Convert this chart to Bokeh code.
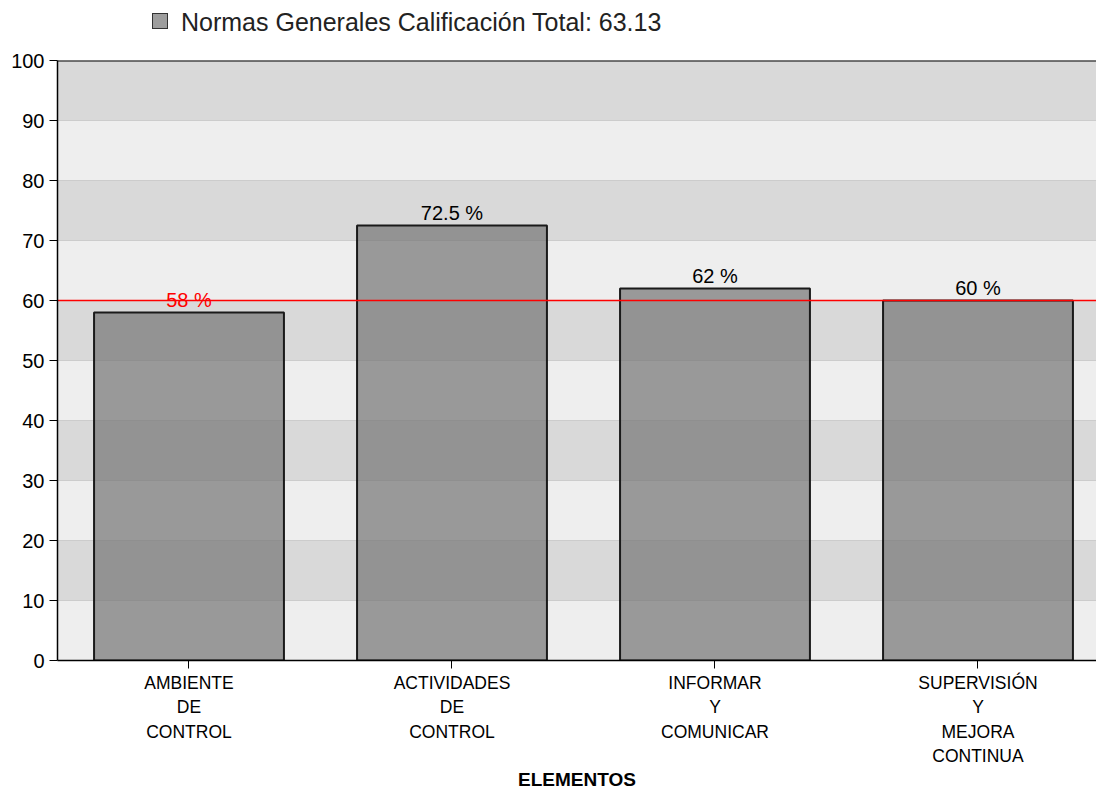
from bokeh.plotting import figure
from bokeh.models import Range1d, FixedTicker, Span, ColumnDataSource, Div
from bokeh.layouts import column
from bokeh.core.properties import value
from bokeh.embed import file_html
from bokeh.resources import INLINE

categories = ["AMBIENTE\nDE\nCONTROL", "ACTIVIDADES\nDE\nCONTROL", "INFORMAR\nY\nCOMUNICAR", "SUPERVISIÓN\nY\nMEJORA\nCONTINUA"]
scores = [58, 72.5, 62, 60]
threshold = 60
legend_text = "Normas Generales Calificación Total: 63.13"
x_title = "ELEMENTOS"
y_ticks = list(range(0, 101, 10))

FONT = "Liberation Sans"
xs = [i + 0.5 for i in range(len(categories))]
labels = [f"{v:g} %" for v in scores]
label_colors = ["red" if v < threshold else "black" for v in scores]
src = ColumnDataSource(dict(x=xs, top=scores, label=labels, color=label_colors))

HEAD = 40
p = figure(width=1096, height=793 - HEAD, output_backend="svg", toolbar_location=None,
           x_range=Range1d(0, 3.9506), y_range=Range1d(0, 100),
           min_border_left=57, min_border_right=0, min_border_top=60 - HEAD, min_border_bottom=20)
p.background_fill_color = "#eeeeee"
p.border_fill_color = "white"
p.outline_line_color = None

p.xgrid.grid_line_color = None
p.ygrid.grid_line_color = "#cccccc"
p.ygrid.band_fill_color = "#d9d9d9"
p.ygrid.band_fill_alpha = 1.0
p.ygrid.ticker = FixedTicker(ticks=y_ticks)

p.yaxis.ticker = FixedTicker(ticks=y_ticks)
p.xaxis.ticker = FixedTicker(ticks=xs)
p.xaxis.major_label_overrides = {x: c for x, c in zip(xs, categories)}
for ax in (p.xaxis, p.yaxis):
    ax.axis_line_color = "black"
    ax.axis_line_width = 1.5
    ax.major_tick_line_color = "black"
    ax.major_tick_out = 8
    ax.major_tick_in = 0
    ax.minor_tick_line_color = None
    ax.major_label_text_font = FONT
    ax.major_label_text_color = "black"
p.yaxis.major_label_text_font_size = "20px"
p.yaxis.major_label_standoff = 5
p.xaxis.major_label_text_font_size = "17.5px"
p.xaxis.major_label_text_line_height = 1.23
p.xaxis.major_label_standoff = 4
p.xaxis.axis_label = x_title
p.xaxis.axis_label_text_font = FONT
p.xaxis.axis_label_text_color = "black"
p.xaxis.axis_label_text_font_style = "bold"
p.xaxis.axis_label_text_font_size = "19px"
p.xaxis.axis_label_standoff = 0

top_border = Span(location=100, dimension="width", line_color="black", line_width=2)
p.add_layout(top_border)
red = Span(location=threshold, dimension="width", line_color="red", line_width=1.5, level="glyph")
p.add_layout(red)

bars = p.vbar(x="x", top="top", bottom=0, width=0.722, source=src,
              fill_color="#767676", fill_alpha=0.71, line_color="#1a1a1a", line_width=2)
p.text(x="x", y="top", text="label", source=src, text_color="color",
       text_font=value(FONT), text_font_size="20px", text_align="center",
       text_baseline="bottom", y_offset=-2)

legend_html = (
    f'<div style="position:relative;height:{HEAD}px;font-family:\'{FONT}\';font-size:25px;color:#222;">'
    '<span style="position:absolute;left:152px;top:13px;width:16px;height:16px;'
    'background:#9e9e9e;border:1.5px solid #333;"></span>'
    f'<span style="position:absolute;left:181px;top:7px;line-height:30px;white-space:nowrap;">{legend_text}</span>'
    '</div>'
)
head = Div(text=legend_html, width=1096, height=HEAD, margin=0)

layout = column(head, p, spacing=0)
open("out.html", "w").write(file_html(layout, INLINE))
